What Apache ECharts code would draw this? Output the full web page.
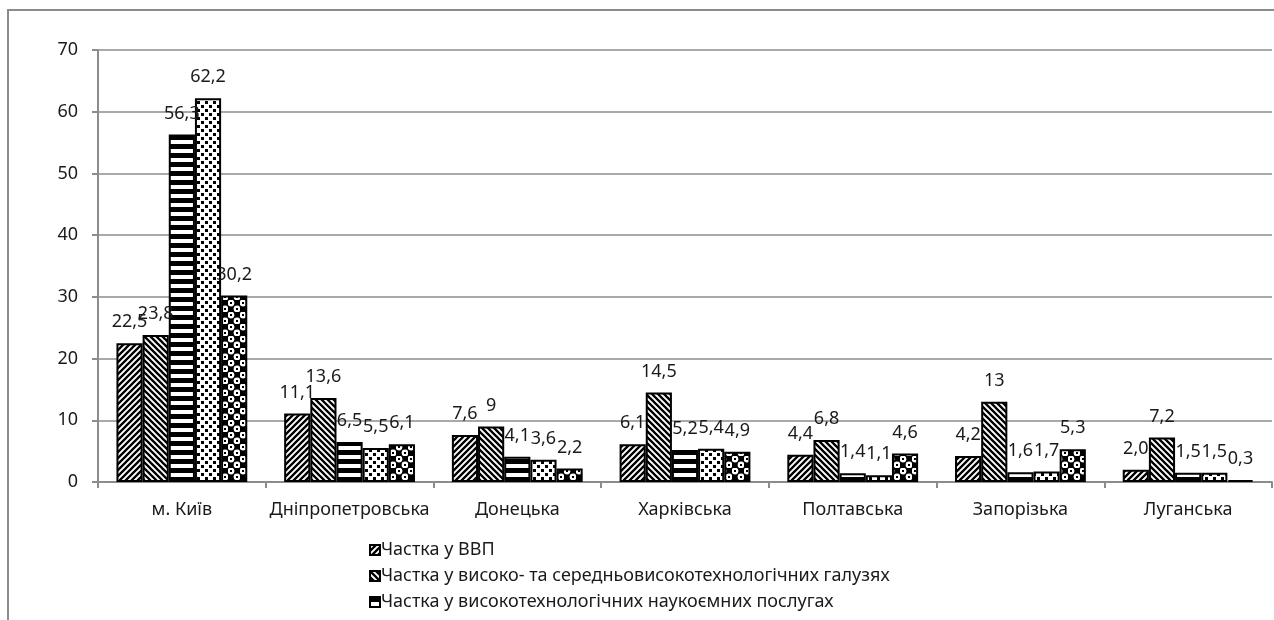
<!DOCTYPE html>
<html>
<head>
<meta charset="utf-8">
<script src="https://cdn.jsdelivr.net/npm/echarts@6/dist/echarts.min.js"></script>
<style>
  html, body { margin: 0; padding: 0; background: #fff; }
  #chart { width: 1274px; height: 620px; }
</style>
</head>
<body>
<div id="chart"></div>
<script>
// regions
const categories = ["м. Київ", "Дніпропетровська", "Донецька", "Харківська", "Полтавська", "Запорізька", "Луганська"];

// values as printed on the bars (kept as text so "9" / "2,0" keep their look)
const gdpShare = ["22.5", "11.1", "7.6", "6.1", "4.4", "4.2", "2.0"];
const hiMidTechShare = ["23.8", "13.6", "9", "14.5", "6.8", "13", "7.2"];
const hiTechServShare = ["56.3", "6.5", "4.1", "5.2", "1.4", "1.6", "1.5"];
const series4Share = ["62.2", "5.5", "3.6", "5.4", "1.1", "1.7", "1.5"];
const series5Share = ["30.2", "6.1", "2.2", "4.9", "4.6", "5.3", "0.3"];

const seriesNames = [
  "Частка у ВВП",
  "Частка у високо- та середньовисокотехнологічних галузях",
  "Частка у високотехнологічних наукоємних послугах",
  "Частка у витратах на інновації",
  "Частка у впровадженні інновацій"
];
const seriesValues = [gdpShare, hiMidTechShare, hiTechServShare, series4Share, series5Share];

const yTicks = { min: 0, max: 70, interval: 10 };

// --- fill patterns (black & white, like the printed chart) ---
function makePattern(w, h, draw) {
  const c = document.createElement("canvas");
  c.width = w;
  c.height = h;
  const ctx = c.getContext("2d");
  ctx.fillStyle = "#fff";
  ctx.fillRect(0, 0, w, h);
  ctx.fillStyle = "#000";
  ctx.strokeStyle = "#000";
  draw(ctx, w, h);
  return { image: c, repeat: "repeat" };
}

function diag(ctx, w, h, flip) {
  ctx.lineWidth = 2.3;
  ctx.beginPath();
  for (let k = -1; k <= 1; k++) {
    if (!flip) {
      ctx.moveTo(k * w - 1, h + 1);
      ctx.lineTo(k * w + w + 1, -1);
    } else {
      ctx.moveTo(k * w - 1, -1);
      ctx.lineTo(k * w + w + 1, h + 1);
    }
  }
  ctx.stroke();
}

const patterns = [
  makePattern(6, 6, (ctx, w, h) => diag(ctx, w, h, false)),
  makePattern(6, 6, (ctx, w, h) => diag(ctx, w, h, true)),
  makePattern(4, 9, (ctx) => ctx.fillRect(0, 0, 4, 5)),
  makePattern(8, 8, (ctx) => {
    ctx.fillRect(1, 1, 3, 3);
    ctx.fillRect(5, 5, 3, 3);
  }),
  makePattern(12, 12, (ctx) => {
    ctx.fillRect(0, 0, 12, 12);
    ctx.fillStyle = "#fff";
    ctx.beginPath();
    ctx.arc(3, 3, 3.4, 0, Math.PI * 2);
    ctx.arc(9, 9, 3.4, 0, Math.PI * 2);
    ctx.fill();
    ctx.fillStyle = "#000";
    ctx.fillRect(2, 2, 2, 2);
    ctx.fillRect(8, 8, 2, 2);
  })
];

const font = "'Noto Sans', sans-serif";

let seriesData = [];
for (let i = 0; i < seriesNames.length; i++) {
  seriesData.push({
    name: seriesNames[i],
    type: "bar",
    data: seriesValues[i].map(Number),
    barGap: 0,
    barCategoryGap: "22%",
    itemStyle: {
      color: patterns[i],
      borderColor: "#000",
      borderWidth: 2
    },
    label: {
      show: true,
      position: "top",
      distance: 12,
      color: "#1a1a1a",
      fontFamily: font,
      fontSize: 18,
      formatter: (p) => seriesValues[p.seriesIndex][p.dataIndex].replace(".", ",")
    }
  });
}

const chart = echarts.init(document.getElementById("chart"));
chart.setOption({
  animation: false,
  backgroundColor: "#fff",
  textStyle: { fontFamily: font, color: "#1a1a1a" },
  grid: { left: 98, right: 2, top: 50, bottom: 138 },
  graphic: [
    {
      type: "polyline",
      shape: { points: [[8, 620], [8, 10], [1274, 10]] },
      style: { stroke: "#8c8c8c", lineWidth: 2, fill: null },
      silent: true
    }
  ],
  legend: {
    orient: "vertical",
    left: 364,
    top: 536,
    height: 400,
    itemGap: 8,
    itemWidth: 10,
    itemHeight: 10,
    icon: "rect",
    data: seriesNames,
    textStyle: { fontSize: 18, fontFamily: font, color: "#1a1a1a", padding: [0, 0, 0, -4] }
  },
  xAxis: {
    type: "category",
    data: categories,
    axisLine: { lineStyle: { color: "#8c8c8c", width: 2 } },
    axisTick: { show: true, length: 6, lineStyle: { color: "#8c8c8c", width: 2 } },
    axisLabel: { interval: 0, fontSize: 18, color: "#1a1a1a", margin: 19, fontFamily: font }
  },
  yAxis: {
    type: "value",
    min: yTicks.min,
    max: yTicks.max,
    interval: yTicks.interval,
    axisLine: { show: true, lineStyle: { color: "#8c8c8c", width: 2 } },
    axisTick: { show: true, length: 6, lineStyle: { color: "#8c8c8c", width: 2 } },
    axisLabel: { fontSize: 18, color: "#1a1a1a", margin: 20, fontFamily: font },
    splitLine: { lineStyle: { color: "#8c8c8c", width: 1.5 } }
  },
  series: seriesData
});
</script>
</body>
</html>
